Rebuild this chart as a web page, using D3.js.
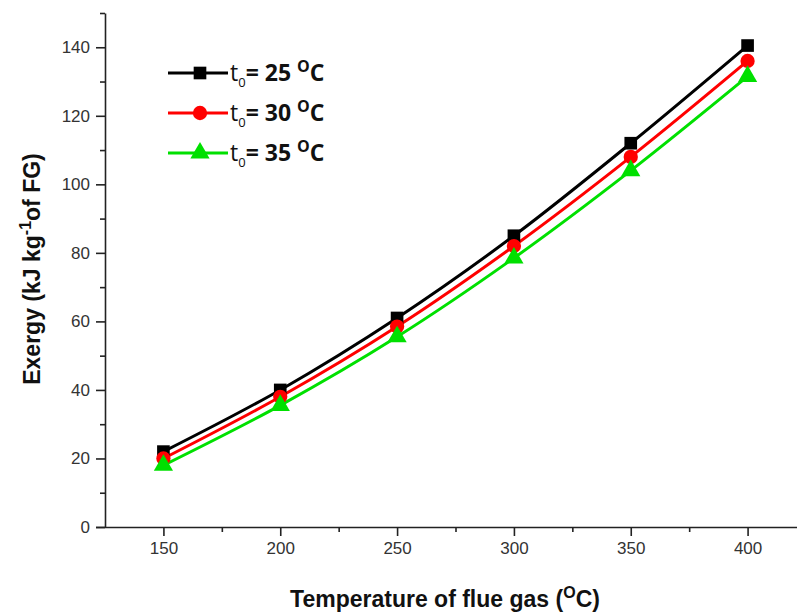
<!DOCTYPE html>
<html>
<head>
<meta charset="utf-8">
<script src="https://cdnjs.cloudflare.com/ajax/libs/d3/7.8.5/d3.min.js"></script>
<style>
  body { margin: 0; background: #fff; }
  svg { display: block; }
  .tick text { font-family: "Liberation Sans", Arial, sans-serif; font-size: 17px; fill: #333; }
</style>
</head>
<body>
<script>
// data
var temps = [150, 200, 250, 300, 350, 400];
var ex25 = [22, 40, 61, 85, 112, 140.5];
var ex30 = [20, 38, 58.5, 82, 108, 136];
var ex35 = [18, 35.5, 55.5, 78.5, 104, 131.5];
var seriesNames = ["25", "30", "35"];
var xTicks = [150, 200, 250, 300, 350, 400];
var yTicks = [0, 20, 40, 60, 80, 100, 120, 140];

var series = [
  {name: seriesNames[0], values: ex25, color: "#000000", symbol: d3.symbolSquare},
  {name: seriesNames[1], values: ex30, color: "#ff0000", symbol: d3.symbolCircle},
  {name: seriesNames[2], values: ex35, color: "#00e000", symbol: d3.symbolTriangle}
];

var width = 797, height = 613;

var x = d3.scaleLinear().domain([125, 425]).range([105, 806]);
var y = d3.scaleLinear().domain([0, 150]).range([527, 13]);

var svg = d3.select("body").append("svg")
    .attr("width", width)
    .attr("height", height);

// x axis
var xAxis = svg.append("g")
    .attr("transform", "translate(0,527)")
    .call(d3.axisBottom(x).tickValues(xTicks).tickSize(9).tickPadding(6).tickSizeOuter(0));
svg.append("g")
    .attr("transform", "translate(0,527)")
    .call(d3.axisBottom(x).tickValues(d3.range(175, 425, 50)).tickSize(5).tickFormat("").tickSizeOuter(0))
    .select(".domain").remove();
xAxis.select(".domain").attr("d", "M96,0.5H806");

// y axis
var yAxis = svg.append("g")
    .attr("transform", "translate(105,0)")
    .call(d3.axisLeft(y).tickValues(yTicks).tickSize(9).tickPadding(6).tickSizeOuter(0));
svg.append("g")
    .attr("transform", "translate(105,0)")
    .call(d3.axisLeft(y).tickValues(d3.range(10, 151, 20)).tickSize(5).tickFormat("").tickSizeOuter(0))
    .select(".domain").remove();

svg.selectAll(".domain, .tick line").attr("stroke", "#222").attr("stroke-width", 1.6);

// lines
var line = d3.line()
    .x(function(d, i) { return x(temps[i]); })
    .y(function(d) { return y(d); })
    .curve(d3.curveCatmullRom.alpha(0.5));

series.forEach(function(s) {
  svg.append("path")
    .datum(s.values)
    .attr("fill", "none")
    .attr("stroke", s.color)
    .attr("stroke-width", 3)
    .attr("d", line);
});

series.forEach(function(s) {
  svg.selectAll(null)
    .data(s.values)
    .enter().append("path")
    .attr("transform", function(d, i) { return "translate(" + x(temps[i]) + "," + y(d) + ")"; })
    .attr("d", d3.symbol().type(s.symbol).size(160))
    .attr("fill", s.color);
});

// legend
var legend = svg.append("g").attr("transform", "translate(168,73)");
series.forEach(function(s, i) {
  var g = legend.append("g").attr("transform", "translate(0," + (i * 40) + ")");
  g.append("line").attr("x1", 0).attr("x2", 60).attr("stroke", s.color).attr("stroke-width", 3);
  g.append("path").attr("transform", "translate(32,0)")
    .attr("d", d3.symbol().type(s.symbol).size(160)).attr("fill", s.color);
  var t = g.append("text")
    .attr("x", 62).attr("y", 8)
    .style("font-family", "'Open Sans', 'Liberation Sans', sans-serif")
    .style("font-size", "23px").style("font-weight", "bold").attr("fill", "#111");
  t.append("tspan").text("t").style("font-weight", "normal");
  t.append("tspan").text("0").attr("dy", 6).style("font-size", "13px").style("font-weight", "normal");
  t.append("tspan").text("= " + s.name + " ").attr("dy", -6);
  t.append("tspan").text("O").attr("dy", -9).style("font-size", "16px");
  t.append("tspan").text("C").attr("dy", 9);
});

// axis titles
var xt = svg.append("text")
    .attr("x", 445).attr("y", 607)
    .attr("text-anchor", "middle")
    .style("font-family", "'Liberation Sans', Arial, sans-serif")
    .style("font-size", "23px").style("font-weight", "bold").attr("fill", "#111");
xt.append("tspan").text("Temperature of flue gas (");
xt.append("tspan").text("O").attr("dy", -9).style("font-size", "16px");
xt.append("tspan").text("C)").attr("dy", 9);

var yt = svg.append("text")
    .attr("transform", "translate(40,269) rotate(-90)")
    .attr("text-anchor", "middle")
    .style("font-family", "'Liberation Sans', Arial, sans-serif")
    .style("font-size", "23px").style("font-weight", "bold").attr("fill", "#111");
yt.append("tspan").text("Exergy  (kJ kg");
yt.append("tspan").text("-1").attr("dy", -9).style("font-size", "16px");
yt.append("tspan").text("of FG)").attr("dy", 9);
</script>
</body>
</html>
